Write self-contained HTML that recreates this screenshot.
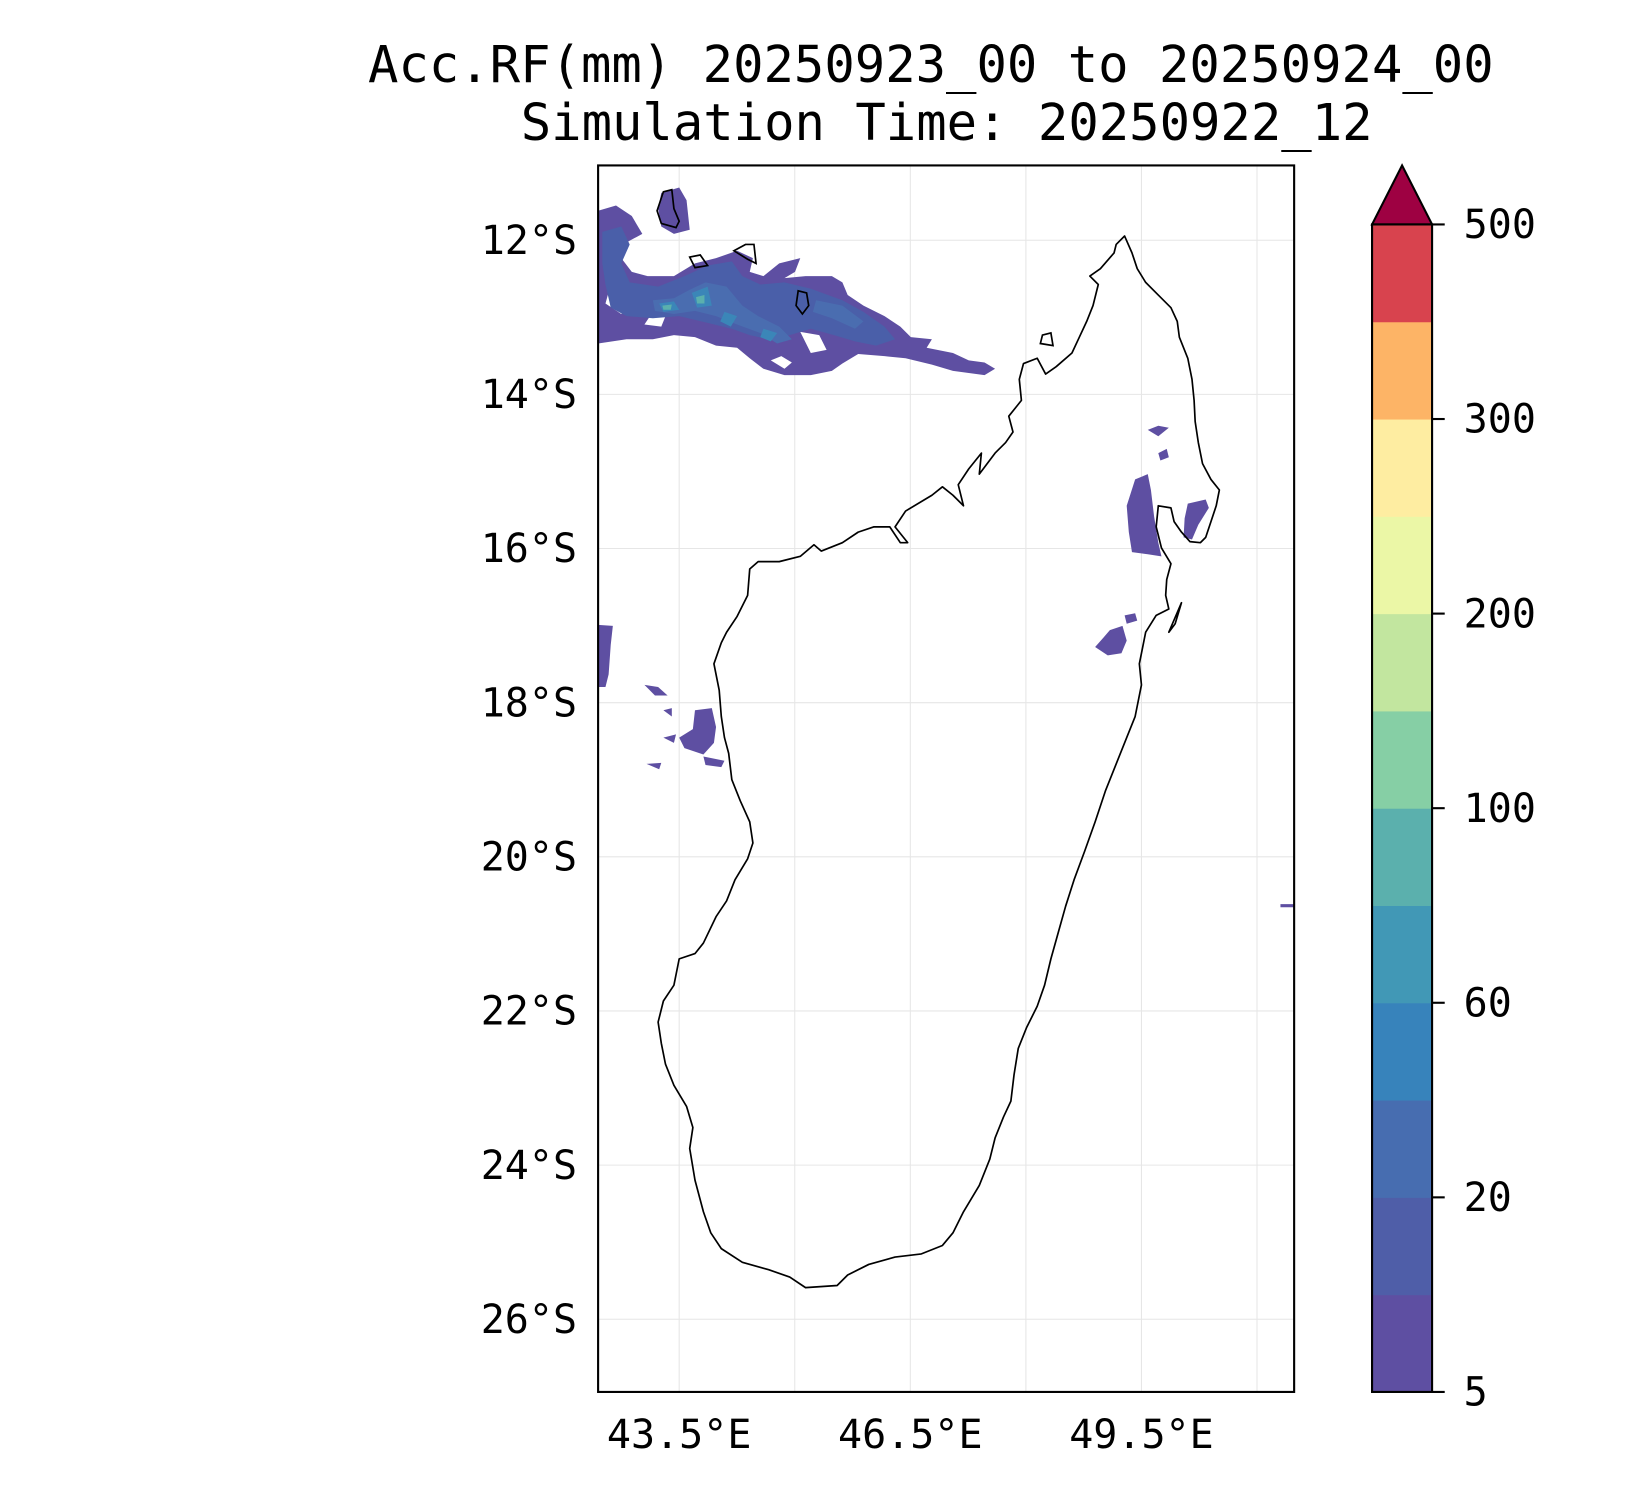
<!DOCTYPE html>
<html><head><meta charset="utf-8"><style>
html,body{margin:0;padding:0;background:#fff;width:1650px;height:1500px;overflow:hidden}
svg{display:block}
text{font-family:"DejaVu Sans Mono","Liberation Mono",monospace;fill:#000}
</style></head><body>
<svg id="fig" width="1650" height="1500" viewBox="0 0 1650 1500">
<g id="root" transform="scale(1.053,1.0537)">
<text x="884" y="78" font-size="48" text-anchor="middle">Acc.RF(mm) 20250923_00 to 20250924_00</text>
<text x="899" y="133" font-size="48" text-anchor="middle">Simulation Time: 20250922_12</text>
<defs><clipPath id="pc"><rect x="568" y="157" width="661" height="1164"/></clipPath></defs>
<g id="grid"></g>
<g clip-path="url(#pc)">
<path fill="#5e4fa2" d="M568,200 L585,195 L600,205 L610,222 L595,230 L590,245 L600,258 L615,262 L640,262 L660,250 L680,245 L700,238 L715,245 L712,258 L725,262 L740,250 L760,245 L755,258 L745,264 L765,262 L790,262 L800,268 L805,280 L820,290 L840,300 L855,310 L865,320 L885,322 L880,330 L905,335 L920,342 L935,344 L945,350 L935,356 L905,352 L885,346 L860,340 L840,338 L815,336 L800,345 L790,352 L770,356 L745,356 L725,350 L712,340 L700,330 L680,328 L660,320 L640,318 L620,322 L595,322 L568,326 Z M580,270 L575,288 L590,298 L600,290 L595,275 Z M620,296 L612,308 L628,310 L632,300 Z M760,315 L770,335 L785,332 L778,318 Z M732,342 L745,350 L752,344 L742,338 Z"/>
<path fill="#5e4fa2" d="M628,183 L645,178 L652,190 L655,218 L640,222 L628,215 L625,198 Z"/>
<path fill="#4a5fa9" d="M572,220 L590,215 L598,232 L590,250 L598,268 L625,272 L650,262 L672,252 L695,248 L705,262 L722,270 L745,268 L770,274 L800,285 L820,296 L840,310 L850,322 L832,328 L812,324 L792,318 L770,312 L750,318 L730,322 L712,318 L695,312 L670,306 L645,300 L620,302 L595,300 L580,292 L575,270 L572,250 Z"/>
<path fill="#4a6db0" d="M620,285 L640,283 L655,275 L670,268 L690,272 L705,290 L720,300 L740,310 L752,322 L738,326 L722,316 L700,308 L680,300 L660,295 L640,298 L622,295 Z M775,285 L800,290 L820,305 L812,312 L790,302 L772,296 Z"/>
<path fill="#3b86b8" d="M626,288 L640,286 L645,294 L630,296 Z M657,278 L672,272 L676,290 L662,292 Z M688,296 L700,300 L694,310 L684,305 Z M725,312 L738,316 L732,324 L722,320 Z"/>
<path fill="#5bb0ad" d="M629,290 L638,289 L637,294 L630,294 Z M661,282 L669,280 L669,288 L662,288 Z"/>
<path fill="#5e4fa2" d="M1078,455 L1090,450 L1093,465 L1096,490 L1100,515 L1103,528 L1090,526 L1075,524 L1072,505 L1070,480 Z"/>
<path fill="#5e4fa2" d="M1128,478 L1145,474 L1148,482 L1138,498 L1132,512 L1124,510 L1125,492 Z"/>
<path fill="#5e4fa2" d="M1090,408 L1100,404 L1110,406 L1100,414 Z M1100,430 L1108,426 L1110,434 L1102,437 Z M1054,598 L1066,594 L1070,608 L1065,620 L1052,622 L1040,614 L1048,605 Z M1068,584 L1078,582 L1080,589 L1070,592 Z"/>
<path fill="#5e4fa2" d="M568,593 L582,594 L580,612 L578,640 L575,652 L568,652 Z M660,674 L676,672 L680,690 L678,705 L668,716 L650,710 L645,700 L658,692 Z M668,718 L688,722 L685,728 L670,726 Z M612,650 L625,652 L634,660 L622,660 Z M630,700 L642,697 L640,705 Z M614,725 L628,724 L626,730 Z M630,674 L638,672 L638,680 Z"/>
<path fill="#5e4fa2" d="M1216,858 L1229,858 L1229,861 L1216,861 Z"/>
<path fill="none" stroke="#000" stroke-width="1.6" stroke-linejoin="round" d="M1068,224 L1075,240 L1080,255 L1088,268 L1100,280 L1112,292 L1118,305 L1120,320 L1128,340 L1132,360 L1134,380 L1135,400 L1138,420 L1142,440 L1150,455 L1158,465 L1155,480 L1150,495 L1145,510 L1140,515 L1130,514 L1122,505 L1115,495 L1112,482 L1100,480 L1098,500 L1103,520 L1112,535 L1108,550 L1107,565 L1110,578 L1098,584 L1088,600 L1082,630 L1084,650 L1078,680 L1070,700 L1060,725 L1050,750 L1040,780 L1030,808 L1020,835 L1012,860 L1005,885 L998,910 L992,935 L985,955 L975,975 L967,995 L963,1020 L960,1045 L953,1060 L945,1080 L940,1100 L930,1125 L915,1150 L905,1170 L895,1182 L875,1190 L850,1193 L825,1200 L805,1210 L795,1220 L765,1222 L750,1212 L730,1205 L705,1198 L685,1185 L675,1170 L668,1150 L660,1120 L655,1090 L658,1070 L652,1050 L640,1030 L632,1010 L628,990 L625,970 L630,950 L640,935 L645,910 L660,905 L668,895 L680,870 L690,855 L698,835 L710,815 L715,800 L712,780 L703,760 L695,740 L692,715 L688,700 L685,680 L683,655 L678,630 L685,610 L690,600 L700,585 L710,565 L712,540 L720,533 L740,533 L760,528 L773,517 L780,523 L800,515 L815,505 L830,500 L845,500 L855,515 L862,515 L850,500 L860,485 L885,470 L895,462 L905,470 L915,480 L910,460 L920,445 L932,430 L930,450 L945,430 L955,420 L962,410 L958,395 L970,380 L968,360 L972,345 L985,340 L993,355 L1003,348 L1018,335 L1025,320 L1032,305 L1038,290 L1043,270 L1035,262 L1045,255 L1058,240 L1060,232 Z M1110,600 L1122,572 L1116,592 Z"/>
<path fill="none" stroke="#000" stroke-width="1.6" d="M630,182 L638,180 L640,198 L645,210 L642,216 L628,212 L624,200 Z M655,244 L665,242 L672,252 L660,254 Z M697,238 L708,232 L716,232 L718,250 L710,246 Z M758,276 L766,278 L768,290 L762,298 L756,290 Z M990,318 L998,316 L1000,328 L988,326 Z"/>
</g>
<rect x="568" y="157" width="661" height="1164" fill="none" stroke="#000" stroke-width="2"/>
<g id="axes"></g>
<g id="cbar"></g>
</g>
</svg>
<script>
const lonTicks=[43.5,46.5,49.5];
const lonGrid=[43.5,45,46.5,48,49.5,51];
const latTicks=[12,14,16,18,20,22,24,26];
const cbLevels=[5,10,20,40,60,80,100,150,200,250,300,400,500];
const cbLabels=["5","20","60","100","200","300","500"];
const cbColors=["#5e4fa2","#4f5ea8","#476db0","#3783bb","#4198b6","#5bb0ad","#86cfa5","#c2e69f","#ebf7a6","#feeda1","#fdb466","#d8434e"];
const NS="http://www.w3.org/2000/svg";
function xLon(l){return 645+(l-43.5)*(1084-645)/6;}
function yLat(l){return 228+(l-12)*(1252-228)/14;}
function mk(t,a,p){const e=document.createElementNS(NS,t);for(const k in a)e.setAttribute(k,a[k]);p.appendChild(e);return e;}
const grid=document.getElementById('grid'),axes=document.getElementById('axes'),cb=document.getElementById('cbar');
lonGrid.forEach(l=>{const e=mk('line',{x1:xLon(l),x2:xLon(l),y1:157,y2:1321,stroke:'#e6e6e6','stroke-width':1},grid);

});
latTicks.forEach(l=>{const e=mk('line',{x1:568,x2:1229,y1:yLat(l),y2:yLat(l),stroke:'#e6e6e6','stroke-width':1},grid);


const t=mk('text',{x:548,y:yLat(l)+13,'font-size':38,'text-anchor':'end'},axes);t.textContent=l+'°S';

});
lonTicks.forEach(l=>{const t=mk('text',{x:xLon(l),y:1374,'font-size':38,'text-anchor':'middle'},axes);t.textContent=l.toFixed(1)+'°E';

});
const cbTop=213,cbBot=1321,cbX=1303,cbW=57,n=cbColors.length,h=(cbBot-cbTop)/n;
function yCb(i){return cbBot-i*h;}
cbColors.forEach((c,i)=>{const r=mk('rect',{x:cbX,y:yCb(i+1),width:cbW,height:h+0.5,fill:c},cb);

});
const ar=mk('polygon',{points:`${cbX},${cbTop} ${cbX+cbW/2},157 ${cbX+cbW},${cbTop}`,fill:'#9e0142',stroke:'#000','stroke-width':2},cb);


const fr=mk('rect',{x:cbX,y:cbTop,width:cbW,height:cbBot-cbTop,fill:'none',stroke:'#000','stroke-width':2},cb);


cbLabels.forEach((s,j)=>{const i=cbLevels.indexOf(+s);const y=yCb(i);
mk('line',{x1:cbX+cbW,x2:cbX+cbW+12,y1:y,y2:y,stroke:'#000','stroke-width':2},cb);
const t=mk('text',{x:1390,y:y+13,'font-size':38},cb);t.textContent=s;

});
</script>
</body></html>
